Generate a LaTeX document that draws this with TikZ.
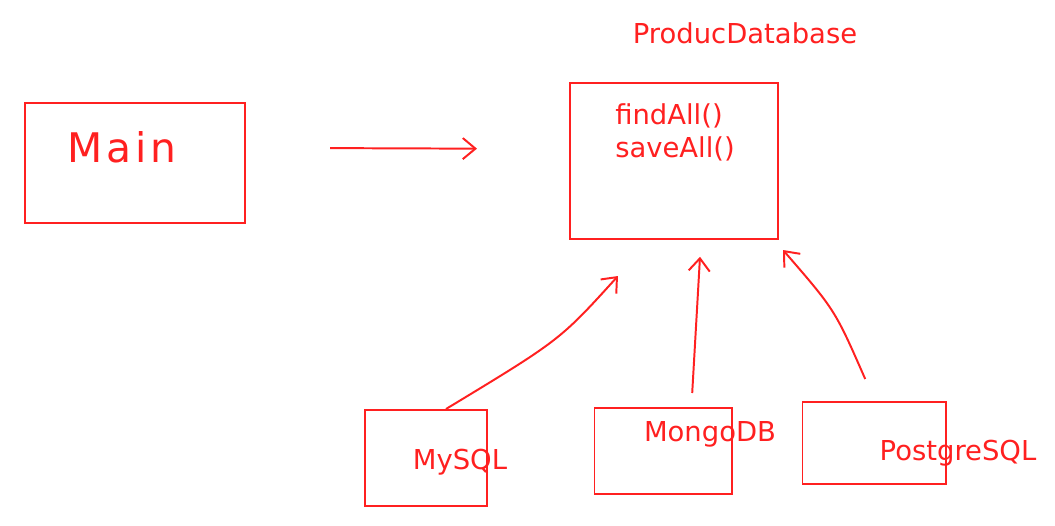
\documentclass[tikz,border=0pt]{standalone}
\usepackage{fontspec}
\setmainfont{DejaVu Sans}
\newfontfamily\handfont[LetterSpace=10]{DejaVu Sans}
\usetikzlibrary{arrows.meta, positioning}
\definecolor{penred}{RGB}{255,32,32}

\begin{document}
\begin{tikzpicture}[
    x=0.025cm, y=-0.025cm,
    sketch/.style={rectangle, draw=penred, line width=1.4pt},
    pentext/.style={text=penred, font=\fontsize{19.5}{23.5}\selectfont, inner sep=0pt},
    arrow/.style={-{Straight Barb[length=9pt, width=15pt]}, draw=penred, line width=1.4pt}
]
    \useasboundingbox (0,0) rectangle (1055,526);

    % Main program
    \node[sketch, minimum width=5.5cm, minimum height=3cm] (main) at (135,163) {};
    \node[text=penred, font=\handfont\fontsize{29}{36}\selectfont] (mainname) at (122,147) {Main};

    % Database interface
    \node[sketch, minimum width=5.2cm, minimum height=3.9cm] (proddb) at (674,161) {};
    \node[pentext] (proddbname) at (745,33) {ProducDatabase};
    \node[pentext, align=left, anchor=north west] (methods) at (615,103) {findAll()\\saveAll()};

    % Implementations
    \node[sketch, minimum width=3.05cm, minimum height=2.4cm] (mysql) at (426,458) {};
    \node[pentext] (mysqlname) at (460,462) {MySQL};
    \node[sketch, minimum width=3.425cm, minimum height=2.15cm] (mongo) at (663,451) {};
    \node[pentext] (mongoname) at (710,434) {MongoDB};
    \node[sketch, minimum width=3.575cm, minimum height=2.05cm] (postgres) at (874,443) {};
    \node[pentext] (postgresname) at (958,453) {PostgreSQL};

    % Arrows
    \draw[arrow, shorten <=2.1cm, shorten >=2.3cm] ([yshift=0.38cm]main.east) -- ([yshift=0.3cm]proddb.west);
    \draw[arrow] ([xshift=0.5cm]mysql.north) .. controls (560,340) .. ([xshift=-1.4cm, yshift=-0.9cm]proddb.south);
    \draw[arrow] ([xshift=0.73cm, yshift=0.35cm]mongo.north) -- ([xshift=0.65cm, yshift=-0.42cm]proddb.south);
    \draw[arrow] ([xshift=-0.22cm, yshift=0.55cm]postgres.north) .. controls (835,310) .. ([xshift=0.1cm, yshift=-0.25cm]proddb.south east);
\end{tikzpicture}
\end{document}
